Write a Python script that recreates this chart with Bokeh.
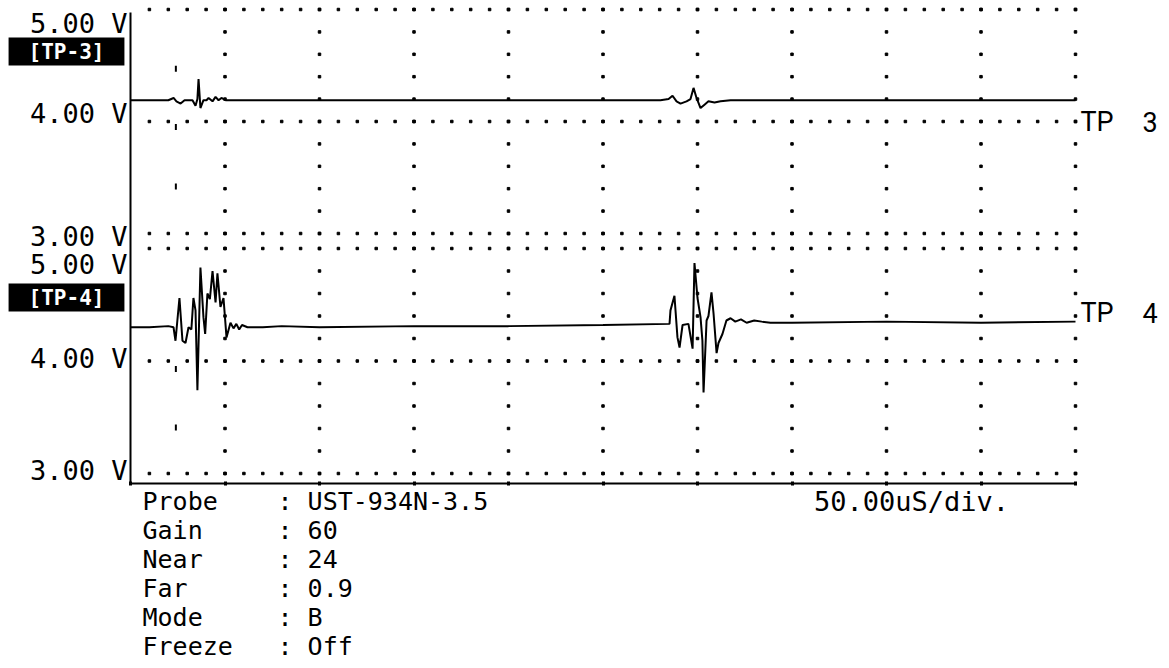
import numpy as np
from bokeh.plotting import figure
from bokeh.models import Range1d, Label, FixedTicker, CustomJSTickFormatter, LinearAxis
from bokeh.embed import file_html
from bokeh.resources import INLINE

# ---------------- data ----------------
time_ticks = [0, 50, 100, 150, 200, 250, 300, 350, 400, 450, 500]   # us, 50 us/div
volt_ticks = [5.0, 4.0, 3.0]
volt_labels = ["5.00 V", "4.00 V", "3.00 V"]
channel_numbers = ["3", "4"]
channel_tags = ["[TP-3]", "[TP-4]"]

tp3_t = [0, 10, 20, 22.8, 24.3, 26.5, 28.6, 32.8, 34.4, 35.4, 36.0, 37.0,
         38.6, 40.2, 41.3, 43.4, 45.0, 46.6, 48.1, 50.3, 60, 80, 100, 150, 200, 250,
         280.4, 284.7, 286.8, 288.9, 291.0, 294.2, 296.3, 297.9, 299.5, 301.6,
         303.7, 305.8, 309.0, 312.2, 317.5, 350, 400, 450, 500]
tp3_v = [4.19, 4.19, 4.19, 4.21, 4.18, 4.16, 4.19, 4.19, 4.14, 4.20, 4.38, 4.12,
         4.19, 4.19, 4.21, 4.18, 4.22, 4.19, 4.21, 4.19, 4.19, 4.19, 4.19, 4.19, 4.19, 4.19,
         4.19, 4.20, 4.23, 4.18, 4.16, 4.18, 4.20, 4.30, 4.21, 4.12,
         4.15, 4.18, 4.17, 4.18, 4.19, 4.19, 4.19, 4.19, 4.19]

tp4_t = [0, 10, 20, 22.75, 23.8, 25.9, 27.5, 29.1, 30.7, 32.2, 33.3, 34.4, 35.4, 37.0,
         38.6, 39.5, 40.7, 42.0, 43.4, 45.0, 46.0, 47.6, 49.2, 50.8, 52.9, 54.5, 56.0,
         57.5, 59.0, 61.9, 70, 80, 100, 150, 200, 250,
         285.2, 285.7, 287.8, 289.4, 290.5, 292.1, 295.2, 297.4, 298.4, 300.0, 301.6,
         302.6, 303.2, 304.8, 305.8, 307.4, 308.5, 310.1, 311.1, 313.2, 315.3, 317.5,
         320, 323, 326, 330, 334, 338.6, 350, 400, 450, 500]
tp4_v = [4.30, 4.30, 4.31, 4.30, 4.18, 4.56, 4.18, 4.16, 4.30, 4.28, 4.56, 4.45, 3.74, 4.83,
         4.39, 4.24, 4.60, 4.55, 4.80, 4.52, 4.78, 4.48, 4.56, 4.21, 4.34, 4.29, 4.33,
         4.28, 4.32, 4.30, 4.30, 4.31, 4.30, 4.31, 4.31, 4.32,
         4.33, 4.45, 4.58, 4.21, 4.12, 4.32, 4.33, 4.11, 4.87, 4.56, 4.39,
         4.18, 3.72, 4.36, 4.40, 4.61, 4.42, 4.07, 4.16, 4.24, 4.36, 4.38,
         4.35, 4.37, 4.34, 4.36, 4.35, 4.34, 4.34, 4.35, 4.34, 4.35]

cursor_t = 24.0
cursor_v_tp3 = [4.47, 3.95, 3.42]
cursor_v_tp4 = [3.93, 3.41]

info_names = ["Probe", "Gain", "Near", "Far", "Mode", "Freeze"]
info_values = ["UST-934N-3.5", "60", "24", "0.9", "B", "Off"]
timebase_text = "50.00uS/div."

MONO = "DejaVu Sans Mono"
SANS = "Roboto"

# ---------------- layout (pixels) ----------------
W, H = 1160, 660
X0_PX, X1_PX = 130, 1075          # screen x of t=0 and t=500 us
PX_US = (X1_PX - X0_PX) / 500.0
TP3_TOP, TP3_PPV = 9, 112.0       # screen y of 5 V, px per volt
TP4_TOP, TP4_PPV = 248, 112.5
AXIS_V = 5.0 - (483 - TP4_TOP) / TP4_PPV   # bottom time-axis line level

p = figure(width=W, height=H, output_backend="svg", toolbar_location=None,
           x_axis_type=None, y_axis_type=None,
           x_range=Range1d(-X0_PX / PX_US, (W - X0_PX) / PX_US),
           y_range=Range1d(5.0 - (H - TP4_TOP) / TP4_PPV, 5.0 + TP4_TOP / TP4_PPV),
           min_border=0)
p.extra_y_ranges = {"tp3": Range1d(5.0 - (H - TP3_TOP) / TP3_PPV, 5.0 + TP3_TOP / TP3_PPV)}
p.outline_line_color = None
p.grid.visible = False
p.background_fill_color = "white"
p.border_fill_color = "white"

# axes drawn inside the frame at fixed positions
yax = LinearAxis(fixed_location=0, bounds=(AXIS_V, 5.0 + (TP4_TOP - 12) / TP4_PPV),
                 ticker=FixedTicker(ticks=[]), axis_line_width=2, axis_line_color="black")
p.add_layout(yax, "left")
xax = LinearAxis(fixed_location=AXIS_V, bounds=(0, 500), ticker=FixedTicker(ticks=time_ticks),
                 formatter=CustomJSTickFormatter(code="return ''"),
                 axis_line_width=2, axis_line_color="black",
                 major_tick_in=2, major_tick_out=2, major_tick_line_width=3)
p.add_layout(xax, "below")

# dotted graticule (5 minor steps per division)
row_t = np.arange(10, 501, 10)
col_t = np.array(time_ticks[1:])
col_v = np.round(np.arange(3.0, 5.0001, 0.2), 2)
xs = np.concatenate([np.tile(row_t, len(volt_ticks)), np.repeat(col_t, len(col_v))])
ys = np.concatenate([np.repeat(volt_ticks, len(row_t)), np.tile(col_v, len(col_t))])
for rng in ["tp3", "default"]:
    p.scatter(xs, ys, marker="square", size=2.5, color="black", y_range_name=rng)

# cursor marks
p.scatter([cursor_t] * len(cursor_v_tp3), cursor_v_tp3, marker="dash", angle=np.pi / 2,
          size=6, line_width=2, color="black", y_range_name="tp3")
p.scatter([cursor_t] * len(cursor_v_tp4), cursor_v_tp4, marker="dash", angle=np.pi / 2,
          size=6, line_width=2, color="black")

# traces
p.line(tp3_t, tp3_v, line_width=2, color="black", y_range_name="tp3")
p.line(tp4_t, tp4_v, line_width=2, color="black")

# left voltage labels
label_offsets = {"tp3": [-14, 8, -3], "default": [-16, 3, 3]}
for rng in ["tp3", "default"]:
    for v, txt, off in zip(volt_ticks, volt_labels, label_offsets[rng]):
        p.add_layout(Label(x=0, y=v, x_offset=-3, y_offset=off, text=txt,
                           text_align="right", text_baseline="middle",
                           text_font=MONO, text_font_size="27px", text_color="black",
                           y_range_name=rng))

# inverse-video channel tags
tag_offsets = {"tp3": -42, "default": -49}
for rng, tag in zip(["tp3", "default"], channel_tags):
    p.add_layout(Label(x=0, y=5.0, x_offset=-64, y_offset=tag_offsets[rng], text=tag,
                       text_align="center", text_baseline="middle",
                       text_font=MONO, text_font_size="21px", text_font_style="bold",
                       text_color="white", background_fill_color="black",
                       padding=dict(left=20, right=20, top=2, bottom=2),
                       y_range_name=rng))

# right channel labels
tp_offsets = {"tp3": 0, "default": 48}
for rng, num in zip(["tp3", "default"], channel_numbers):
    p.add_layout(Label(x=500, y=4.0, x_offset=5, y_offset=tp_offsets[rng], text="TP",
                       text_align="left", text_baseline="middle",
                       text_font=SANS, text_font_size="27px",
                       text_color="black", y_range_name=rng))
    p.add_layout(Label(x=500, y=4.0, x_offset=67, y_offset=tp_offsets[rng], text=num,
                       text_align="left", text_baseline="middle",
                       text_font=SANS, text_font_size="27px",
                       text_color="black", y_range_name=rng))

# settings block
for i, (name, val) in enumerate(zip(info_names, info_values)):
    p.add_layout(Label(x=0, y=3.0, x_offset=12, y_offset=-28 - 29 * i, text=name,
                       text_align="left", text_baseline="middle",
                       text_font=MONO, text_font_size="25px", text_color="black"))
    p.add_layout(Label(x=0, y=3.0, x_offset=147, y_offset=-28 - 29 * i, text=": " + val,
                       text_align="left", text_baseline="middle",
                       text_font=MONO, text_font_size="25px", text_color="black"))

p.add_layout(Label(x=500, y=3.0, x_offset=-164, y_offset=-28, text=timebase_text,
                   text_align="center", text_baseline="middle",
                   text_font=MONO, text_font_size="27px", text_color="black"))

open("out.html", "w").write(file_html(p, INLINE))
